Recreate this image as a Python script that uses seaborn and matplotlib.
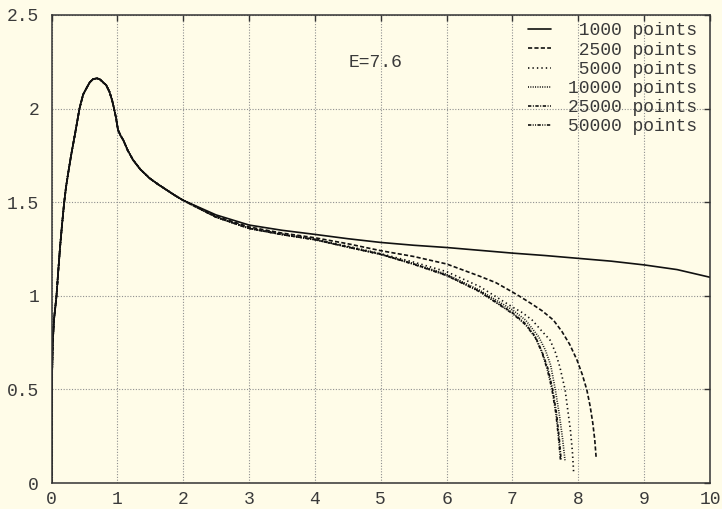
import numpy as np
import pandas as pd
import matplotlib
matplotlib.use("Agg")
import matplotlib.pyplot as plt
import seaborn as sns

# Rise, peak and kink: every run agrees here to within a line width
head_x = [0.0, 0.003, 0.01, 0.02, 0.04, 0.076, 0.1, 0.13, 0.16, 0.19, 0.22, 0.26,
          0.30, 0.36, 0.425, 0.48, 0.53, 0.58, 0.63, 0.69, 0.74, 0.79, 0.83, 0.88,
          0.92, 0.95, 0.98, 1.01, 1.05, 1.09, 1.16, 1.24, 1.35, 1.49, 1.62, 1.75, 1.88]
head_y = [0.0, 0.40, 0.60, 0.76, 0.88, 1.00, 1.12, 1.26, 1.38, 1.49, 1.58, 1.67,
          1.755, 1.87, 2.00, 2.075, 2.108, 2.14, 2.157, 2.162, 2.155, 2.138, 2.126, 2.09,
          2.045, 2.00, 1.95, 1.886, 1.855, 1.832, 1.775, 1.725, 1.675, 1.628, 1.595,
          1.565, 1.535]

# Tails per run (x >= 2)
tail_1000_x = [2.0, 2.5, 3.0, 3.5, 4.0, 4.5, 5.0, 5.5, 6.0, 6.5, 7.0, 7.5, 8.0, 8.5,
               9.0, 9.5, 10.0]
tail_1000_y = [1.51, 1.432, 1.378, 1.35, 1.328, 1.305, 1.285, 1.27, 1.258, 1.243, 1.228,
               1.215, 1.200, 1.185, 1.165, 1.14, 1.099]

tail_2500_x = [2.0, 2.5, 3.0, 3.5, 4.0, 4.5, 5.0, 5.5, 6.0, 6.5, 6.75, 7.0, 7.12, 7.3,
               7.45, 7.62, 7.75, 7.87, 7.98, 8.06, 8.13, 8.18, 8.22, 8.25, 8.27]
tail_2500_y = [1.51, 1.425, 1.368, 1.335, 1.31, 1.278, 1.241, 1.21, 1.170, 1.105, 1.07,
               1.02, 0.995, 0.955, 0.92, 0.871, 0.81, 0.74, 0.657, 0.58, 0.497, 0.41,
               0.32, 0.23, 0.14]

tail_5000_x = [2.0, 2.5, 3.0, 3.5, 4.0, 4.5, 5.0, 5.5, 6.0, 6.5, 7.0, 7.15, 7.3, 7.45,
               7.57, 7.65, 7.72, 7.80, 7.84, 7.88, 7.91, 7.93]
tail_5000_y = [1.51, 1.42, 1.362, 1.33, 1.303, 1.265, 1.225, 1.18, 1.129, 1.05, 0.94,
               0.91, 0.87, 0.81, 0.764, 0.70, 0.62, 0.497, 0.39, 0.283, 0.17, 0.052]

tail_10000_x = [2.0, 2.5, 3.0, 3.5, 4.0, 4.5, 5.0, 5.5, 6.0, 6.5, 7.0, 7.2, 7.4, 7.5,
                7.58, 7.65, 7.71, 7.76, 7.80]
tail_10000_y = [1.51, 1.42, 1.36, 1.328, 1.30, 1.262, 1.222, 1.172, 1.115, 1.03, 0.925,
                0.87, 0.78, 0.71, 0.63, 0.50, 0.37, 0.24, 0.114]

tail_25000_x = [2.0, 2.5, 3.0, 3.5, 4.0, 4.5, 5.0, 5.5, 6.0, 6.5, 7.0, 7.2, 7.35, 7.45,
                7.54, 7.61, 7.67, 7.71, 7.74]
tail_25000_y = [1.51, 1.42, 1.36, 1.327, 1.30, 1.26, 1.222, 1.17, 1.11, 1.025, 0.91,
                0.85, 0.78, 0.70, 0.61, 0.50, 0.37, 0.24, 0.12]

tail_50000_x = [2.0, 2.5, 3.0, 3.5, 4.0, 4.5, 5.0, 5.5, 6.0, 6.5, 7.0, 7.2, 7.35, 7.45,
                7.53, 7.60, 7.66, 7.70, 7.73]
tail_50000_y = [1.51, 1.42, 1.36, 1.327, 1.30, 1.26, 1.221, 1.168, 1.108, 1.022, 0.905,
                0.845, 0.775, 0.695, 0.605, 0.50, 0.37, 0.24, 0.12]

series_labels = [" 1000 points", " 2500 points", " 5000 points",
                 "10000 points", "25000 points", "50000 points"]
tails = [(tail_1000_x, tail_1000_y), (tail_2500_x, tail_2500_y),
         (tail_5000_x, tail_5000_y), (tail_10000_x, tail_10000_y),
         (tail_25000_x, tail_25000_y), (tail_50000_x, tail_50000_y)]

x_ticks = [0, 1, 2, 3, 4, 5, 6, 7, 8, 9, 10]
y_ticks = [0, 0.5, 1, 1.5, 2, 2.5]
y_tick_labels = ["0", "0.5", "1", "1.5", "2", "2.5"]
note_text = "E=7.6"

frames = []
for label, (tx, ty) in zip(series_labels, tails):
    frames.append(pd.DataFrame({"x": head_x + tx, "y": head_y + ty, "run": label}))
df = pd.concat(frames, ignore_index=True)

bg = "#fffce8"
ink = "#3a3a3a"

sns.set_style("white")
plt.rcParams["font.family"] = ["Liberation Mono", "DejaVu Sans Mono"]
plt.rcParams["lines.scale_dashes"] = False

fig = plt.figure(figsize=(7.22, 5.09), dpi=100, facecolor=bg)
ax = fig.add_axes([51.5 / 722, 26 / 509, 658.5 / 722, 468 / 509])
ax.set_facecolor(bg)

dash_styles = {
    series_labels[0]: "",
    series_labels[1]: (3.0, 1.6),
    series_labels[2]: (1.0, 2.2),
    series_labels[3]: (0.7, 1.0),
    series_labels[4]: (2.4, 1.1, 0.7, 1.1),
    series_labels[5]: (2.4, 1.0, 0.7, 1.0, 0.7, 1.0),
}

sns.lineplot(data=df, x="x", y="y", style="run", style_order=series_labels,
             dashes=dash_styles, color="#111111", linewidth=1.2,
             estimator=None, sort=False, legend=False, ax=ax)

ax.set_xlim(0, 10)
ax.set_ylim(0, 2.5)
ax.set_xticks(x_ticks)
ax.set_xticklabels([str(v) for v in x_ticks])
ax.set_yticks(y_ticks)
ax.set_yticklabels(y_tick_labels)
ax.set_xlabel("")
ax.set_ylabel("")

ax.grid(True, color="#8f8f8f", linewidth=0.8, linestyle=(0, (0.8, 1.2)))
ax.set_axisbelow(True)
ax.tick_params(direction="in", length=4.5, width=1.0, color="#333333",
               top=True, right=True, labelsize=13, labelcolor=ink)
ax.tick_params(axis="y", pad=9)
ax.tick_params(axis="x", pad=6)
for s in ax.spines.values():
    s.set_color("#333333")
    s.set_linewidth(1.1)
    s.set_visible(True)

ax.text(4.51, 2.245, note_text, fontsize=13, color=ink, ha="left", va="center")

leg = ax.legend(ax.lines[:6], series_labels, loc="upper right",
                bbox_to_anchor=(0.980, 0.984), frameon=False,
                fontsize=13, handlelength=1.28, handletextpad=0.95,
                labelspacing=0.12, borderaxespad=0.0, borderpad=0.0)
for t in leg.get_texts():
    t.set_color(ink)

fig.savefig("out.png", dpi=100, facecolor=bg)
